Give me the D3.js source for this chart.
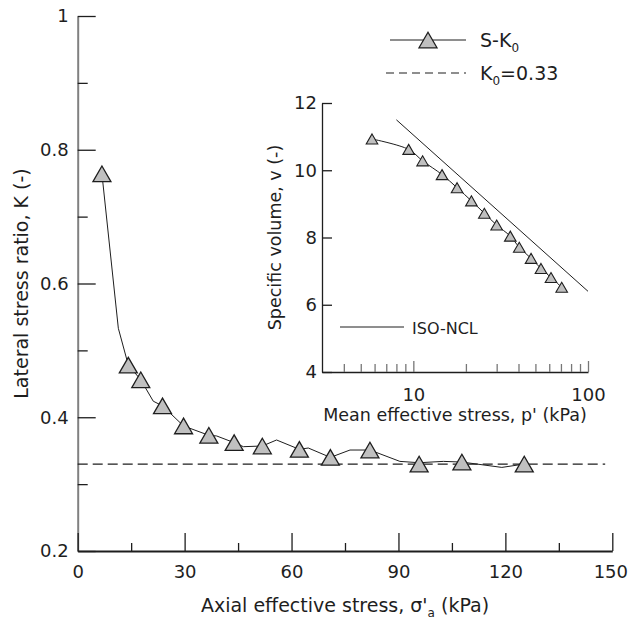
<!DOCTYPE html>
<html>
<head>
<meta charset="utf-8">
<script src="https://cdn.jsdelivr.net/npm/d3@7"></script>
<style>
  body { margin: 0; background: #fff; }
  svg { display: block; font-family: "DejaVu Sans", sans-serif; }
  text { fill: #1e1e1e; }
</style>
</head>
<body>
<div id="chart"></div>
<script>
// main plot: S-K0 test, symbols
let axialStress = [6.8, 14.2, 17.7, 23.8, 29.7, 36.8, 43.9, 51.8, 62.2, 70.9, 82.0, 95.8, 107.8, 125.3];
let kRatio = [0.764, 0.478, 0.456, 0.417, 0.387, 0.373, 0.362, 0.357, 0.352, 0.340, 0.351, 0.330, 0.333, 0.330];
// raw trace drawn as thin line
let traceStress = [6.8, 11.4, 14.2, 17.7, 21.2, 23.8, 29.7, 36.8, 39.0, 43.9, 46.5, 51.8, 55.8, 62.2, 64.7, 70.9, 76.4, 82.0, 90.4, 95.8, 102.6, 107.8, 119.0, 125.3];
let traceK = [0.764, 0.533, 0.478, 0.456, 0.424, 0.417, 0.387, 0.373, 0.372, 0.362, 0.356, 0.357, 0.366, 0.352, 0.354, 0.340, 0.351, 0.351, 0.334, 0.332, 0.334, 0.333, 0.325, 0.330];
let k0 = 0.33;

// inset: compression curve
let meanStress = [5.8, 9.4, 11.3, 14.6, 17.8, 21.5, 25.5, 30.0, 35.9, 40.4, 47.2, 53.8, 61.4, 70.7];
let specVolume = [10.93, 10.62, 10.28, 9.87, 9.48, 9.09, 8.72, 8.37, 8.04, 7.71, 7.38, 7.08, 6.81, 6.52];
let nclStress = [8, 100];
let nclVolume = [11.5, 6.4];

// ticks
let kTicks = [0.2, 0.4, 0.6, 0.8, 1], kMinor = [0.3, 0.5, 0.7, 0.9];
let stressTicks = [0, 30, 60, 90, 120, 150], stressMinor = [15, 45, 75, 105, 135];
let vTicks = [4, 6, 8, 10, 12];
let pTicks = [10, 100], pMinor = [4, 5, 6, 7, 8, 9, 20, 30, 40, 50, 60, 70, 80, 90];

let width = 628, height = 621;
let ink = "#1e1e1e";

let svg = d3.select("#chart").append("svg")
  .attr("width", width)
  .attr("height", height);

let x = d3.scaleLinear().domain([0, 150]).range([77.7, 612.3]);
let y = d3.scaleLinear().domain([0.2, 1]).range([551, 16]);

// triangle with its bounding box centred on the point
function tri(size){
  let h = Math.sqrt(size / (Math.sqrt(3) * 3));
  return {path: d3.symbol(d3.symbolTriangle, size)(), dy: h / 2};
}

function styleAxis(g, col, w){
  g.selectAll(".tick line").attr("stroke", ink).attr("stroke-width", 1.3);
  g.select(".domain").attr("stroke", col).attr("stroke-width", w);
  g.selectAll("text").attr("fill", ink);
}

// main axes
let yAxis = svg.append("g")
  .attr("transform", "translate(" + x(0) + ",0)")
  .call(d3.axisLeft(y).tickValues(kTicks).tickFormat(d3.format("~g"))
    .tickSizeInner(-18).tickSizeOuter(0).tickPadding(9))
  .attr("font-size", 18).attr("font-family", null);
styleAxis(yAxis, "#808080", 2);

svg.append("g")
  .attr("transform", "translate(" + x(0) + ",0)")
  .call(d3.axisLeft(y).tickValues(kMinor).tickFormat("").tickSizeInner(-10).tickSizeOuter(0))
  .call(g => g.select(".domain").remove())
  .call(g => g.selectAll("line").attr("stroke", ink).attr("stroke-width", 1.3));

let xAxis = svg.append("g")
  .attr("transform", "translate(0," + y(0.2) + ")")
  .call(d3.axisBottom(x).tickValues(stressTicks)
    .tickSizeInner(-18).tickSizeOuter(0).tickPadding(14))
  .attr("font-size", 18).attr("font-family", null);
styleAxis(xAxis, ink, 2);
// keep the last label inside the frame
xAxis.selectAll(".tick").filter(d => d === 150).select("text").attr("dx", -2);

svg.append("g")
  .attr("transform", "translate(0," + y(0.2) + ")")
  .call(d3.axisBottom(x).tickValues(stressMinor).tickFormat("").tickSizeInner(-8).tickSizeOuter(0))
  .call(g => g.select(".domain").remove())
  .call(g => g.selectAll("line").attr("stroke", ink).attr("stroke-width", 1.3));

// axis titles
let xt = svg.append("text")
  .attr("x", (x(0) + x(150)) / 2).attr("y", 612)
  .attr("text-anchor", "middle").attr("font-size", 19);
xt.append("tspan").text("Axial effective stress, \u03c3'");
xt.append("tspan").text("a").attr("font-size", 12).attr("dy", 5);
xt.append("tspan").text(" (kPa)").attr("dy", -5);

svg.append("text")
  .attr("transform", "translate(28," + (y(0.2) + y(1)) / 2 + ") rotate(-90)")
  .attr("text-anchor", "middle").attr("font-size", 19)
  .text("Lateral stress ratio, K (-)");

// K0 line
svg.append("line")
  .attr("x1", x(0)).attr("x2", x(148))
  .attr("y1", y(k0)).attr("y2", y(k0))
  .attr("stroke", ink).attr("stroke-width", 1.2)
  .attr("stroke-dasharray", "10,5");

// trace + symbols
let trace = traceStress.map((d, i) => [d, traceK[i]]);
svg.append("path")
  .datum(trace)
  .attr("fill", "none").attr("stroke", ink).attr("stroke-width", 1)
  .attr("d", d3.line().x(d => x(d[0])).y(d => y(d[1])));

let bigTri = tri(140);
svg.append("g").selectAll("path")
  .data(axialStress.map((d, i) => [d, kRatio[i]]))
  .join("path")
  .attr("d", bigTri.path)
  .attr("transform", d => "translate(" + x(d[0]) + "," + (y(d[1]) + bigTri.dy) + ")")
  .attr("fill", "#c0c0c0").attr("stroke", ink).attr("stroke-width", 1.3);

// legend
let lg = svg.append("g").attr("font-size", 19);
lg.append("line").attr("x1", 390).attr("x2", 466).attr("y1", 40).attr("y2", 40)
  .attr("stroke", ink).attr("stroke-width", 1);
lg.append("path").attr("d", bigTri.path)
  .attr("transform", "translate(428," + (40 + bigTri.dy) + ")")
  .attr("fill", "#c0c0c0").attr("stroke", ink).attr("stroke-width", 1.3);
let l1 = lg.append("text").attr("x", 480).attr("y", 47);
l1.append("tspan").text("S-K");
l1.append("tspan").text("0").attr("font-size", 12).attr("dy", 5);

lg.append("line").attr("x1", 386).attr("x2", 466).attr("y1", 73).attr("y2", 73)
  .attr("stroke", ink).attr("stroke-width", 1.2).attr("stroke-dasharray", "8,5");
let l2 = lg.append("text").attr("x", 480).attr("y", 80);
l2.append("tspan").text("K");
l2.append("tspan").text("0").attr("font-size", 12).attr("dy", 5);
l2.append("tspan").text("=0.33").attr("dy", -5);

// ---- inset ----
let px = d3.scaleLog().domain([3, 100]).range([322, 588]);
let py = d3.scaleLinear().domain([4, 12]).range([372, 103]);

let iy = svg.append("g")
  .attr("transform", "translate(" + px.range()[0] + ",0)")
  .call(d3.axisLeft(py).tickValues(vTicks).tickSizeInner(-10).tickSizeOuter(0).tickPadding(5))
  .attr("font-size", 18).attr("font-family", null);
styleAxis(iy, ink, 1.3);

let ix = svg.append("g")
  .attr("transform", "translate(0," + py(4) + ")")
  .call(d3.axisBottom(px).tickValues(pTicks).tickFormat(d3.format("d"))
    .tickSizeInner(-11).tickSizeOuter(0).tickPadding(16))
  .attr("font-size", 18).attr("font-family", null);
styleAxis(ix, ink, 1.3);
ix.selectAll(".tick line").attr("stroke", "#777");

svg.append("g")
  .attr("transform", "translate(0," + py(4) + ")")
  .call(d3.axisBottom(px).tickValues(pMinor).tickFormat("").tickSizeInner(-8).tickSizeOuter(0))
  .call(g => g.select(".domain").remove())
  .call(g => g.selectAll("line").attr("stroke", "#777").attr("stroke-width", 1.3));

svg.append("text")
  .attr("x", 455).attr("y", 421)
  .attr("text-anchor", "middle").attr("font-size", 17.5)
  .text("Mean effective stress, p' (kPa)");

svg.append("text")
  .attr("transform", "translate(281," + (py(4) + py(12)) / 2 + ") rotate(-90)")
  .attr("text-anchor", "middle").attr("font-size", 17.5)
  .text("Specific volume, v (-)");

// NCL
svg.append("path")
  .datum(nclStress.map((d, i) => [d, nclVolume[i]]))
  .attr("fill", "none").attr("stroke", ink).attr("stroke-width", 1)
  .attr("d", d3.line().x(d => px(d[0])).y(d => py(d[1])));

let comp = meanStress.map((d, i) => [d, specVolume[i]]);
svg.append("path")
  .datum(comp)
  .attr("fill", "none").attr("stroke", ink).attr("stroke-width", 1)
  .attr("d", d3.line().x(d => px(d[0])).y(d => py(d[1])).curve(d3.curveCatmullRom));

let smallTri = tri(58);
svg.append("g").selectAll("path")
  .data(comp)
  .join("path")
  .attr("d", smallTri.path)
  .attr("transform", d => "translate(" + px(d[0]) + "," + (py(d[1]) + smallTri.dy) + ")")
  .attr("fill", "#c0c0c0").attr("stroke", ink).attr("stroke-width", 1.1);

// inset legend
svg.append("line").attr("x1", 340).attr("x2", 404).attr("y1", 327).attr("y2", 327)
  .attr("stroke", ink).attr("stroke-width", 1);
svg.append("text").attr("x", 412).attr("y", 334).attr("font-size", 16).text("ISO-NCL");
</script>
</body>
</html>
